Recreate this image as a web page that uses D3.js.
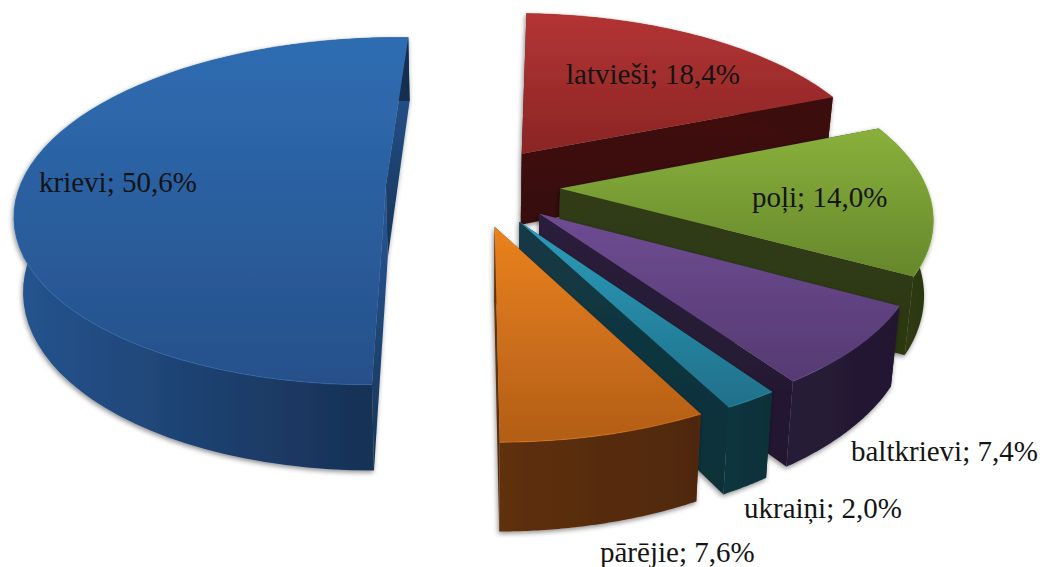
<!DOCTYPE html>
<html><head><meta charset="utf-8">
<script src="https://cdnjs.cloudflare.com/ajax/libs/d3/7.8.5/d3.min.js"></script>
<style>html,body{margin:0;padding:0;background:#fff}svg{display:block}text{font-family:"Liberation Serif",serif;fill:#141414}</style>
</head><body><svg id="c" width="1060" height="567"></svg>
<script>
const categories = ["latvieši","poļi","baltkrievi","ukraiņi","pārējie","krievi"];
const shares = [18.4,14.0,7.4,2.0,7.6,50.6];
const shareLabels = ["18,4%","14,0%","7,4%","2,0%","7,6%","50,6%"];
const topLight = ["#b43434","#89b03c","#6e4c92","#2c9cba","#ea821f","#2f6db2"];
const topDark  = ["#8a2524","#66872b","#553a72","#1f708a","#b25d17","#26508a"];
const rimLight = ["#401010","#313e13","#281c38","#11363f","#5f300c","#25548f"];
const rimDark  = ["#3a0d0c","#2b3711","#21172f","#0e2f38","#4f280a","#162d4e"];
const faceLight= ["#421111","#303c13","#2b1e3b","#133a45","#6a3a10","#27599a"];
const faceDark = ["#360c0b","#2c3811","#21172f","#0e2f38","#4f280a","#173353"];
const labelAnchors = [[566,84],[752,207],[851,461],[744,518],[600,562],[39,192]];

const svg = d3.select("#c");
const cx=473, cy=186, R=366, S=170, D=73, P=0.1486, E=0.238, tilt=0.02;
const rot = 2*Math.PI/180;
const pie = d3.pie().sort(null).value(d=>d).startAngle(rot).endAngle(rot+2*Math.PI);
const arcs = pie(shares);
const project = (u,v,z)=>{
  const w = 1/(1-P*v);
  return [cx + R*u*w*(1-tilt*z), cy + S*v*w + D*z*w];
};
const line = d3.line();
const defs = svg.append("defs");
const f = defs.append("filter").attr("id","sh").attr("x","-10%").attr("y","-10%").attr("width","120%").attr("height","120%");
f.append("feDropShadow").attr("dx",-1).attr("dy",2).attr("stdDeviation",2.5).attr("flood-color","#000").attr("flood-opacity",0.45);
const grad=(id,x2,y2,a,b)=>{
  const g=defs.append("linearGradient").attr("id",id).attr("x1",0).attr("y1",0).attr("x2",x2).attr("y2",y2);
  g.append("stop").attr("offset",0).attr("stop-color",a);
  g.append("stop").attr("offset",1).attr("stop-color",b);
  return `url(#${id})`;
};
arcs.forEach((a,i)=>{
  const mid=(a.startAngle+a.endAngle)/2;
  const ox=E*Math.sin(mid), oy=-E*Math.cos(mid);
  const steps=d3.range(0,61).map(k=>a.startAngle+(a.endAngle-a.startAngle)*k/60);
  const rimPt=(t,z)=>project(ox+Math.sin(t),oy-Math.cos(t),z);
  const apex=z=>project(ox,oy,z);
  const g=svg.append("g").attr("filter","url(#sh)");
  const faceFill=grad("fa"+i,0,1,faceLight[i],faceDark[i]);
  [a.startAngle,a.endAngle].forEach(t=>{
    g.append("path").attr("fill",faceFill)
     .attr("d",line([apex(0),rimPt(t,0),rimPt(t,1),apex(1)])+"Z");
  });
  const topEdge=steps.map(t=>rimPt(t,0));
  const botEdge=steps.map(t=>rimPt(t,1)).reverse();
  g.append("path").attr("fill",grad("ri"+i,1,0,rimLight[i],rimDark[i]))
   .attr("d",line(topEdge.concat(botEdge))+"Z");
  g.append("path").attr("fill",grad("to"+i,0,1,topLight[i],topDark[i]))
   .attr("d",line([apex(0)].concat(topEdge))+"Z");
  g.append("path").attr("fill","none").attr("stroke",topLight[i]).attr("stroke-opacity",0.55).attr("stroke-width",1.2)
   .attr("d",line(topEdge));
});
categories.forEach((c,i)=>{
  svg.append("text").attr("x",labelAnchors[i][0]).attr("y",labelAnchors[i][1])
    .attr("font-size",29).text(`${c}; ${shareLabels[i]}`);
});
</script></body></html>
